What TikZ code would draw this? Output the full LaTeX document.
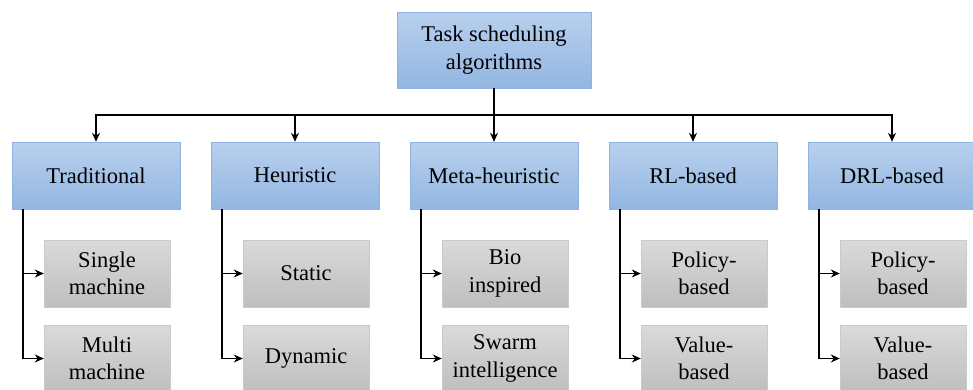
\documentclass[tikz,border=0pt]{standalone}
\usepackage{fontspec}
\setmainfont{Liberation Serif}
\usetikzlibrary{positioning, arrows, arrows.meta}
\definecolor{blueTop}{HTML}{B8D0EE}
\definecolor{blueBottom}{HTML}{92B6E2}
\definecolor{blueEdge}{HTML}{8FB4E2}
\definecolor{greyTop}{HTML}{DADADA}
\definecolor{greyBottom}{HTML}{BEBEBE}
\definecolor{greyEdge}{HTML}{CACACA}
\tikzset{>={Stealth[length=9pt, width=8pt]}, % filled arrow heads
x=1pt, y=1pt, % one unit is one pixel of the layout
every node/.style={align=center, font=\rmfamily\fontsize{22.5}{27.5}\selectfont}, % serif text, two lines where needed
root/.style={draw=blueEdge, top color=blueTop, bottom color=blueBottom, minimum width=194pt, minimum height=76pt}, % the top box
family/.style={draw=blueEdge, top color=blueTop, bottom color=blueBottom, minimum width=168pt, minimum height=67pt}, % one box for each kind of algorithm
method/.style={draw=greyEdge, top color=greyTop, bottom color=greyBottom, minimum width=126pt, minimum height=67pt}, % the grey boxes below
link/.style={->, line width=1.4pt}, % the black connectors
}

\begin{document}
\begin{tikzpicture}
    \useasboundingbox (0,0) rectangle (973,-389);
    \node[root] (tsa) at (494,-50) {Task scheduling\\algorithms};
    \node[family] (trad) at (96,-175.5) {Traditional};
    \node[family] (heur) at (295,-175.5) {Heuristic};
    \node[family] (meta) at (494,-175.5) {Meta-heuristic};
    \node[family] (rl) at (693,-175.5) {RL-based};
    \node[family] (drl) at (892,-175.5) {DRL-based};
    \node[method] (trad1) at (107,-273.5) {Single\\machine};
    \node[method] (trad2) at (107,-358.5) {Multi\\machine};
    \node[method] (heur1) at (306,-273.5) {Static};
    \node[method] (heur2) at (306,-358.5) {Dynamic};
    \node[method] (meta1) at (505,-273.5) {Bio\\inspired};
    \node[method] (meta2) at (505,-358.5) {Swarm\\intelligence};
    \node[method] (rl1) at (704,-273.5) {Policy-\\based};
    \node[method] (rl2) at (704,-358.5) {Value-\\based};
    \node[method] (drl1) at (903,-273.5) {Policy-\\based};
    \node[method] (drl2) at (903,-358.5) {Value-\\based};
    \coordinate (bus) at (494,-115);
    \draw[line width=1.4pt] (tsa) -- (bus);
    \draw[link] (bus) -| (trad);
    \draw[link] (bus) -| (heur);
    \draw[link] (bus) -- (meta);
    \draw[link] (bus) -| (rl);
    \draw[link] (bus) -| (drl);
    \draw[link] ([xshift=11pt]trad.south west) |- (trad1);
    \draw[link] ([xshift=11pt]trad.south west) |- (trad2);
    \draw[link] ([xshift=11pt]heur.south west) |- (heur1);
    \draw[link] ([xshift=11pt]heur.south west) |- (heur2);
    \draw[link] ([xshift=11pt]meta.south west) |- (meta1);
    \draw[link] ([xshift=11pt]meta.south west) |- (meta2);
    \draw[link] ([xshift=11pt]rl.south west) |- (rl1);
    \draw[link] ([xshift=11pt]rl.south west) |- (rl2);
    \draw[link] ([xshift=11pt]drl.south west) |- (drl1);
    \draw[link] ([xshift=11pt]drl.south west) |- (drl2);
\end{tikzpicture}
\end{document}
